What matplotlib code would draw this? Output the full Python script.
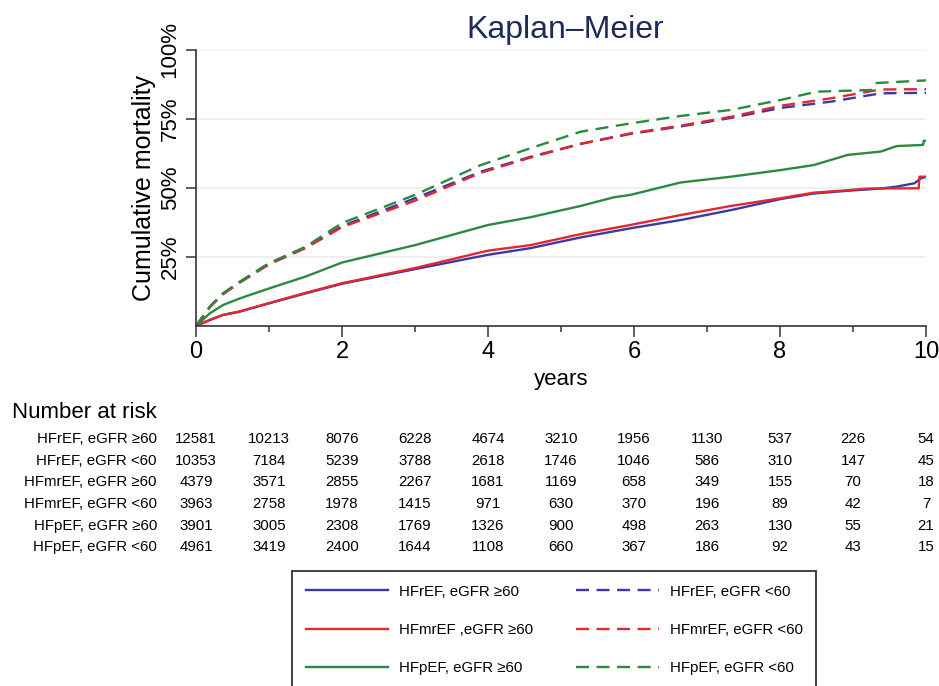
import matplotlib
matplotlib.use("Agg")
import matplotlib.pyplot as plt
from matplotlib.transforms import blended_transform_factory

plt.rcParams['font.family'] = ['Liberation Sans', 'DejaVu Sans']

# curves (years, cumulative mortality %)
t_fr_hi = [0, 0.19, 0.37, 0.6, 1, 1.5, 2, 3, 4, 4.58, 5.27, 5.95, 6.64, 7.33, 8.01, 8.46, 8.93, 9.38, 9.6, 9.84, 9.93, 10]
fr_hi = [0, 2.2, 4.0, 5.2, 8.2, 11.8, 15.3, 20.6, 25.8, 28.2, 32.1, 35.4, 38.4, 42.0, 46.0, 48.0, 49.0, 49.8, 50.5, 51.7, 53.5, 54.0]

t_mr_hi = [0, 0.19, 0.37, 0.6, 1, 1.5, 2, 3, 4, 4.58, 5.27, 5.95, 6.64, 7.33, 8.01, 8.46, 8.93, 9.2, 9.9, 9.91, 10]
mr_hi = [0, 2.2, 4.0, 5.3, 8.3, 12.0, 15.5, 21.0, 27.3, 29.3, 33.3, 36.6, 40.2, 43.5, 46.3, 48.3, 49.2, 49.8, 49.9, 54.1, 54.1]

t_p_hi = [0, 0.19, 0.37, 0.6, 1, 1.5, 2, 3, 4, 4.58, 5.27, 5.72, 5.95, 6.64, 7.33, 8.01, 8.46, 8.93, 9.38, 9.6, 9.96, 9.97, 10]
p_hi = [0, 4.6, 7.6, 10.0, 13.6, 17.9, 23.0, 29.3, 36.6, 39.4, 43.5, 46.6, 47.5, 52.0, 54.1, 56.5, 58.3, 62.0, 63.2, 65.2, 65.6, 67.1, 67.1]

t_lo = [0, 0.19, 0.37, 0.6, 1, 1.5, 2, 3, 3.9, 4.58, 5.27, 5.95, 6.64, 7.33, 8.01, 8.7, 9.38, 10]
fr_lo = [0, 7.0, 11.8, 16.0, 22.7, 28.5, 36.2, 46.3, 55.9, 61.3, 66.0, 69.6, 72.3, 75.4, 79.0, 81.3, 84.3, 84.5]
mr_lo = [0, 6.8, 11.5, 15.7, 22.3, 28.2, 35.8, 45.4, 55.5, 61.0, 66.0, 69.8, 72.6, 75.8, 79.8, 82.5, 85.7, 85.8]

t_p_lo = [0, 0.19, 0.37, 0.6, 1, 1.5, 2, 3, 3.9, 4.58, 5.27, 5.95, 6.64, 7.33, 8.01, 8.5, 9.25, 9.3, 10]
p_lo = [0, 7.0, 11.8, 16.0, 22.7, 28.7, 37.3, 47.5, 58.3, 64.4, 70.4, 73.4, 76.1, 78.3, 81.9, 84.9, 85.5, 88.0, 89.0]

# number at risk table
risk_years = list(range(11))
risk_labels = ["HFrEF, eGFR \u226560", "HFrEF, eGFR <60", "HFmrEF, eGFR \u226560",
               "HFmrEF, eGFR <60", "HFpEF, eGFR \u226560", "HFpEF, eGFR <60"]
risk_fr_hi = [12581, 10213, 8076, 6228, 4674, 3210, 1956, 1130, 537, 226, 54]
risk_fr_lo = [10353, 7184, 5239, 3788, 2618, 1746, 1046, 586, 310, 147, 45]
risk_mr_hi = [4379, 3571, 2855, 2267, 1681, 1169, 658, 349, 155, 70, 18]
risk_mr_lo = [3963, 2758, 1978, 1415, 971, 630, 370, 196, 89, 42, 7]
risk_p_hi = [3901, 3005, 2308, 1769, 1326, 900, 498, 263, 130, 55, 21]
risk_p_lo = [4961, 3419, 2400, 1644, 1108, 660, 367, 186, 92, 43, 15]

blue = '#3a3aa6'
red = '#e0282e'
green = '#2b8a3e'
dash = (0, (5.5, 3.2))

W, H = 939, 686
fig = plt.figure(figsize=(W / 100, H / 100), dpi=100)
ax = fig.add_axes([196 / W, 1 - 326 / H, 730 / W, 276 / H])

ax.plot(t_fr_hi, fr_hi, color=blue, lw=1.7, label="HFrEF, eGFR \u226560")
ax.plot(t_mr_hi, mr_hi, color=red, lw=1.7, label="HFmrEF ,eGFR \u226560")
ax.plot(t_p_hi, p_hi, color=green, lw=1.7, label="HFpEF, eGFR \u226560")
ax.plot(t_lo, fr_lo, color=blue, lw=1.7, ls=dash, label="HFrEF, eGFR <60")
ax.plot(t_lo, mr_lo, color=red, lw=1.7, ls=dash, label="HFmrEF, eGFR <60")
ax.plot(t_p_lo, p_lo, color=green, lw=1.7, ls=dash, label="HFpEF, eGFR <60")

ax.set_xlim(0, 10)
ax.set_ylim(0, 100)
ax.set_xticks([0, 2, 4, 6, 8, 10])
ax.set_xticks([1, 3, 5, 7, 9], minor=True)
ax.set_yticks([25, 50, 75, 100])
ax.set_yticklabels(["25%", "50%", "75%", "100%"])
ax.grid(axis='y', color='#ececec', lw=1.2)
ax.set_axisbelow(True)
for s in ['top', 'right']:
    ax.spines[s].set_visible(False)
for s in ['left', 'bottom']:
    ax.spines[s].set_color('#333333')
    ax.spines[s].set_linewidth(1.2)
ax.tick_params(axis='x', which='major', length=8, width=1.1, color='#333333', labelsize=17, pad=3)
ax.tick_params(axis='x', which='minor', length=4.5, width=1.1, color='#333333')
ax.tick_params(axis='y', length=7, width=1.1, color='#333333', labelsize=16, pad=4, labelrotation=90)
for lab in ax.get_yticklabels():
    lab.set_va('center')

ax.set_ylabel("Cumulative mortality", fontsize=18)
ax.yaxis.set_label_coords(-0.055, 0.5)
ax.set_xlabel("years", fontsize=16)
ax.xaxis.set_label_coords(0.5, -0.155)

fig.text(565 / W, 1 - 38 / H, "Kaplan\u2013Meier", fontsize=23, color='#1f2b57',
         ha='center', va='baseline')

# number at risk
tr = blended_transform_factory(ax.transData, fig.transFigure)
fig.text(12 / W, 1 - 413 / H, "Number at risk", fontsize=16, ha='left', va='center')
rows = [risk_fr_hi, risk_fr_lo, risk_mr_hi, risk_mr_lo, risk_p_hi, risk_p_lo]
for i, (lab, vals) in enumerate(zip(risk_labels, rows)):
    yy = 1 - (439.3 + 21.6 * i) / H
    fig.text(157 / W, yy, lab, fontsize=10.8, ha='right', va='center')
    for yr, v in zip(risk_years, vals):
        ax.text(yr, yy, str(v), fontsize=10.8, ha='center', va='center', transform=tr)

handles, labels = ax.get_legend_handles_labels()
leg = fig.legend(handles, labels, ncol=2, loc='upper left',
                 bbox_to_anchor=(292 / W, 1 - 571 / H), fontsize=10.8,
                 frameon=True, fancybox=False, edgecolor='#222222', framealpha=1,
                 handlelength=5.5, handletextpad=0.75, columnspacing=2.85,
                 labelspacing=1.62, borderpad=0.9, borderaxespad=0)
leg.get_frame().set_linewidth(1.2)

fig.savefig("out.png", dpi=100)
